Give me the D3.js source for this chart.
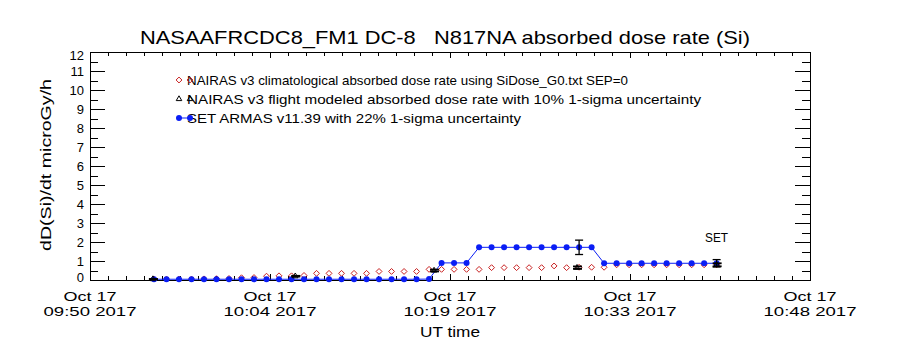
<!DOCTYPE html>
<html><head><meta charset="utf-8">
<script src="https://cdn.jsdelivr.net/npm/d3@7"></script>
<style>body{margin:0;background:#fff}svg{display:block}text{font-family:"Liberation Sans",Arial,sans-serif;fill:#000;white-space:pre}</style>
</head><body><svg id="c" width="900" height="350"></svg>
<script>
const titleText = "NASAAFRCDC8_FM1 DC-8   N817NA absorbed dose rate (Si)";
const yTitle = "dD(Si)/dt microGy/h";
const xTitle = "UT time";
const xDomain = ["09:49:53", "10:47:28"];
const xTickLine1 = ["Oct 17", "Oct 17", "Oct 17", "Oct 17", "Oct 17"];
const xTickLine2 = ["09:50 2017", "10:04 2017", "10:19 2017", "10:33 2017", "10:48 2017"];
const yTicks = [0,1,2,3,4,5,6,7,8,9,10,11,12];
const legendLabels = [
  "NAIRAS v3 climatological absorbed dose rate using SiDose_G0.txt SEP=0",
  "NAIRAS v3 flight modeled absorbed dose rate with 10% 1-sigma uncertainty",
  "SET ARMAS v11.39 with 22% 1-sigma uncertainty"
];
const times = ["09:55","09:56","09:57","09:58","09:59","10:00","10:01","10:02","10:03","10:04",
  "10:05","10:06","10:07","10:08","10:09","10:10","10:11","10:12","10:13","10:14",
  "10:15","10:16","10:17","10:18","10:19","10:20","10:21","10:22","10:23","10:24",
  "10:25","10:26","10:27","10:28","10:29","10:30","10:31","10:32","10:33","10:34",
  "10:35","10:36","10:37","10:38","10:39","10:40"];
const climo = [0.05,0.05,0.05,0.05,0.06,0.07,0.08,0.12,0.13,0.2,
  0.22,0.22,0.24,0.35,0.35,0.35,0.35,0.35,0.45,0.45,
  0.45,0.45,0.56,0.56,0.56,0.56,0.56,0.65,0.65,0.65,
  0.65,0.65,0.74,0.65,0.67,0.67,0.67,0.8,0.8,0.8,
  0.8,0.8,0.8,0.8,0.8,0.8];
const setArmas = [0.04,0.04,0.04,0.04,0.04,0.04,0.04,0.04,0.04,0.04,
  0.04,0.04,0.04,0.04,0.04,0.04,0.04,0.04,0.04,0.04,
  0.04,0.04,0.05,0.9,0.9,0.9,1.72,1.72,1.72,1.72,
  1.72,1.72,1.72,1.72,1.72,1.72,0.88,0.88,0.88,0.88,
  0.88,0.88,0.88,0.88,0.88,0.88];
const setErrIdx = [34, 45];
const setErrFrac = 0.22;
const flightTimes = ["09:54:55","10:06:18","10:17:24","10:28:50","10:40:00"];
const flightVals = [0.05, 0.2, 0.5, 0.65, 0.8];
const flightErrFrac = 0.10;

const parseT = s => { const p = s.split(":").map(Number); return new Date(Date.UTC(2017,9,17,p[0],p[1],p[2]||0)); };
const svg = d3.select("#c");
const L = 90, R = 810, T = 52, B = 280;
const x = d3.scaleUtc().domain(xDomain.map(parseT)).range([L, R]);
const y = d3.scaleLinear().domain([0, 12]).range([B, T]);

// frame
svg.append("rect").attr("x", L).attr("y", T).attr("width", R-L).attr("height", B-T)
  .attr("fill","none").attr("stroke","#000").attr("stroke-width",1).attr("shape-rendering","crispEdges");

// y axes (left + mirrored right)
const yMinor = d3.range(0, 12.01, 0.5);
const yAxL = d3.axisLeft(y).tickValues(yTicks).tickFormat("").tickSizeInner(-15).tickSizeOuter(0);
const yAxLm = d3.axisLeft(y).tickValues(yMinor).tickFormat("").tickSizeInner(-8).tickSizeOuter(0);
const yAxR = d3.axisRight(y).tickValues(yTicks).tickFormat("").tickSizeInner(-15).tickSizeOuter(0);
const yAxRm = d3.axisRight(y).tickValues(yMinor).tickFormat("").tickSizeInner(-8).tickSizeOuter(0);
[[yAxL,L],[yAxLm,L],[yAxR,R],[yAxRm,R]].forEach(([a,px]) => {
  const g = svg.append("g").attr("transform",`translate(${px},0)`).call(a);
  g.select(".domain").remove();
  g.selectAll("line").attr("shape-rendering","crispEdges");
});
svg.append("g").selectAll("text").data(yTicks).join("text")
  .attr("x", 84).attr("y", d => y(d) + (d===0 ? -3 : d===12 ? 3 : 0))
  .attr("dy","0.36em").attr("text-anchor","end").attr("font-size",13).text(d => d);

// x axes
const d0 = x.domain()[0].getTime(), d1 = x.domain()[1].getTime();
const xMajor = d3.range(5).map(i => new Date(d0 + (d1-d0)*i/4));
const xMinor = d3.range(41).map(i => new Date(d0 + (d1-d0)*i/40));
[[d3.axisBottom, B],[d3.axisTop, T]].forEach(([f, py]) => {
  const g1 = svg.append("g").attr("transform",`translate(0,${py})`).call(f(x).tickValues(xMajor).tickFormat("").tickSizeInner(-6).tickSizeOuter(0));
  const g2 = svg.append("g").attr("transform",`translate(0,${py})`).call(f(x).tickValues(xMinor).tickFormat("").tickSizeInner(-4).tickSizeOuter(0));
  [g1,g2].forEach(g => { g.select(".domain").remove(); g.selectAll("line").attr("shape-rendering","crispEdges"); });
});
const xl = svg.append("g").selectAll("g").data(xMajor).join("g");
xl.append("text").attr("x", d => x(d)).attr("y", 301).attr("text-anchor","middle").attr("font-size",13)
  .attr("textLength",53).attr("lengthAdjust","spacingAndGlyphs").text((d,i) => xTickLine1[i]);
xl.append("text").attr("x", d => x(d)).attr("y", 316).attr("text-anchor","middle").attr("font-size",13)
  .attr("textLength",93).attr("lengthAdjust","spacingAndGlyphs").text((d,i) => xTickLine2[i]);

// titles
svg.append("text").attr("x",445).attr("y",44).attr("text-anchor","middle").attr("font-size",19)
  .attr("textLength",610).attr("lengthAdjust","spacingAndGlyphs").text(titleText);
svg.append("text").attr("transform","translate(51,165) rotate(-90)").attr("text-anchor","middle").attr("font-size",15)
  .attr("textLength",172).attr("lengthAdjust","spacingAndGlyphs").text(yTitle);
svg.append("text").attr("x",450).attr("y",337).attr("text-anchor","middle").attr("font-size",15)
  .attr("textLength",60).attr("lengthAdjust","spacingAndGlyphs").text(xTitle);

// data
const tt = times.map(parseT);
const diamond = d3.symbol().type(d3.symbolDiamond2).size(22);
const tri = d3.symbol().type(d3.symbolTriangle2).size(22);
const blue = "#0a1ef5", red = "#c82020";

// climatological diamonds
svg.append("g").selectAll("path").data(climo).join("path")
  .attr("transform",(d,i) => `translate(${x(tt[i])},${y(d)})`).attr("d", diamond)
  .attr("fill","none").attr("stroke",red).attr("stroke-width",1);

// SET ARMAS line + dots
svg.append("path").datum(setArmas).attr("fill","none").attr("stroke",blue).attr("stroke-width",1)
  .attr("d", d3.line().x((d,i) => x(tt[i])).y(d => y(d)));
svg.append("g").selectAll("circle").data(setArmas).join("circle")
  .attr("cx",(d,i) => x(tt[i])).attr("cy", d => y(d)).attr("r",3).attr("fill",blue);

// SET error bars
const eb = svg.append("g").attr("stroke","#000").attr("stroke-width",1.3);
setErrIdx.forEach(i => {
  const cx = x(tt[i]), v = setArmas[i], lo = y(v*(1-setErrFrac)), hi = y(v*(1+setErrFrac));
  eb.append("line").attr("x1",cx).attr("x2",cx).attr("y1",lo).attr("y2",hi);
  eb.append("line").attr("x1",cx-4).attr("x2",cx+4).attr("y1",lo).attr("y2",lo);
  eb.append("line").attr("x1",cx-4).attr("x2",cx+4).attr("y1",hi).attr("y2",hi);
});

// flight modeled triangles + 10% error bars
const ft = flightTimes.map(parseT);
const fb = svg.append("g");
flightVals.forEach((v,i) => {
  const cx = x(ft[i]), lo = y(v*(1-flightErrFrac)), hi = y(v*(1+flightErrFrac));
  fb.append("line").attr("x1",cx).attr("x2",cx).attr("y1",lo).attr("y2",hi).attr("stroke","#000");
  fb.append("line").attr("x1",cx-4).attr("x2",cx+5).attr("y1",lo).attr("y2",lo).attr("stroke","#000").attr("stroke-width",1.8);
  fb.append("line").attr("x1",cx-4).attr("x2",cx+5).attr("y1",hi).attr("y2",hi).attr("stroke","#000").attr("stroke-width",1.8);
  fb.append("path").attr("transform",`translate(${cx},${y(v)})`).attr("d",tri).attr("fill","none").attr("stroke","#000");
});

// SET label
svg.append("text").attr("x",705).attr("y",242).attr("font-size",13).attr("textLength",23)
  .attr("lengthAdjust","spacingAndGlyphs").text("SET");

// legend
const legY = [80, 99, 118], legLen = [441, 514, 334];
const lg = svg.append("g");
legendLabels.forEach((t,i) => {
  lg.append("text").attr("x",187).attr("y",legY[i]).attr("dy","0.36em").attr("font-size",13)
    .attr("textLength",legLen[i]).attr("lengthAdjust","spacingAndGlyphs").text(t);
  [179,190].forEach(mx => {
    if (i===0) lg.append("path").attr("transform",`translate(${mx},${legY[i]})`).attr("d",diamond).attr("fill","none").attr("stroke",red);
    if (i===1) lg.append("path").attr("transform",`translate(${mx},${legY[i]})`).attr("d",tri).attr("fill","none").attr("stroke","#000");
    if (i===2) lg.append("circle").attr("cx",mx).attr("cy",legY[i]).attr("r",3).attr("fill",blue);
  });
  if (i===2) lg.append("line").attr("x1",179).attr("x2",190).attr("y1",legY[i]).attr("y2",legY[i]).attr("stroke",blue);
});
</script></body></html>
